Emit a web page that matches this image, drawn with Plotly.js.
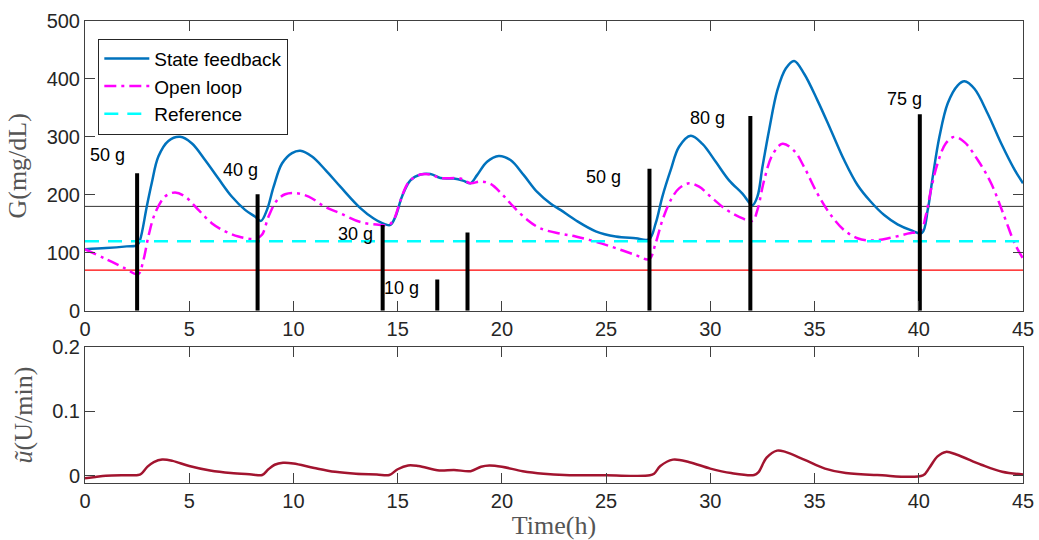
<!DOCTYPE html>
<html>
<head>
<meta charset="utf-8">
<script src="https://cdn.plot.ly/plotly-3.0.1.min.js"></script>
<style>html,body{margin:0;padding:0;background:#fff;}#chart{width:1039px;height:540px;}</style>
</head>
<body>
<div id="chart"></div>
<script>
// State feedback glucose (mg/dL) vs time (h)
const tSF = [0, 1, 2, 2.5, 2.64, 2.96, 3.2, 3.52, 4.0, 4.56, 5.12, 5.76, 6.4, 7.04, 7.68, 8.17, 8.44, 8.73, 9.05, 9.45, 9.93, 10.33, 10.89, 11.53, 12.25, 13.21, 13.85, 14.41, 14.65, 14.89, 15.21, 15.61, 16.09, 16.57, 17.05, 17.69, 18.17, 18.49, 18.81, 19.29, 19.85, 20.41, 21.05, 21.69, 22.33, 22.81, 23.54, 24.5, 25.46, 26.42, 27.06, 27.38, 27.7, 28.1, 28.5, 29.06, 29.62, 30.26, 30.9, 31.54, 32.02, 32.26, 32.5, 32.82, 33.22, 33.62, 34.02, 34.5, 35.14, 35.78, 36.42, 37.06, 37.7, 38.34, 38.98, 39.62, 40.15, 40.43, 40.67, 40.99, 41.39, 41.87, 42.19, 42.67, 43.31, 43.95, 44.6, 45];
const gSF = [106, 108, 111, 113, 122, 179, 220, 266, 293, 300, 289, 260, 228, 197, 174, 162, 155, 174, 214, 254, 272, 276, 266, 243, 214, 177, 159, 149, 148, 162, 197, 225, 235, 236, 229, 228, 224, 220, 234, 257, 267, 260, 234, 205, 185, 174, 156, 137, 128, 125, 123, 151, 197, 243, 283, 302, 288, 257, 225, 202, 182, 197, 248, 312, 381, 418, 431, 409, 363, 312, 260, 217, 188, 165, 149, 139, 134, 174, 231, 300, 358, 389, 396, 383, 340, 289, 243, 220];

// Open loop glucose
const tOL = [0, 0.96, 1.92, 2.55, 2.8, 3.04, 3.36, 3.84, 4.32, 4.8, 5.44, 6.08, 6.72, 7.36, 8.17, 8.49, 8.8, 9.2, 9.6, 10.09, 10.73, 11.53, 12.25, 13.21, 14.17, 14.57, 14.81, 15.13, 15.53, 16.09, 16.57, 17.05, 18.01, 18.49, 18.97, 19.45, 20.01, 20.57, 21.21, 21.85, 22.81, 23.54, 24.5, 25.46, 26.42, 27.06, 27.38, 27.7, 28.1, 28.5, 28.98, 29.46, 30.1, 30.74, 31.38, 32.02, 32.26, 32.58, 32.98, 33.46, 34.02, 34.5, 35.14, 35.78, 36.42, 37.06, 37.78, 38.66, 39.46, 40.1, 40.34, 40.58, 40.9, 41.3, 41.7, 42.19, 42.83, 43.47, 44.11, 44.6, 45];
const gOL = [106, 90, 73, 63, 87, 128, 168, 197, 204, 197, 174, 151, 137, 128, 124, 131, 162, 190, 201, 203, 197, 179, 168, 153, 148, 148, 157, 190, 222, 235, 235, 229, 228, 220, 223, 219, 201, 179, 157, 142, 133, 128, 119, 108, 96, 89, 117, 156, 191, 211, 220, 214, 194, 175, 162, 155, 174, 225, 269, 288, 276, 248, 202, 165, 139, 125, 121, 126, 133, 139, 165, 208, 254, 289, 300, 291, 260, 220, 162, 116, 90];

// Reference and limits
const tRange = [0, 45];
const refValue = 120;
const upperLimit = 180;
const lowerLimit = 70;

// Meals
const mealTimes = [2.5, 8.28, 14.28, 16.9, 18.35, 27.08, 31.92, 40.05];
const mealTops = [237, 201, 148, 54, 135, 245, 336, 339];
const mealLabels = ["50 g", "40 g", "30 g", "10 g", "50 g", "80 g", "75 g"];
const mealLabelT = [1.06, 7.48, 12.97, 15.17, 24.86, 29.84, 39.3];
const mealLabelG = [268, 243, 133, 40, 231, 332, 366];

// Insulin input u~ (U/min)
const tU = [0, 0.5, 1, 2, 2.55, 2.7, 3.0, 3.3, 3.7, 4.2, 5, 6, 7, 8, 8.5, 8.8, 9.1, 9.5, 10, 11, 12, 13, 14, 14.6, 15, 15.5, 16, 17, 17.7, 18.5, 19, 19.4, 20, 21, 22, 23, 25, 27.1, 27.3, 27.6, 28.2, 29, 30, 31, 32.1, 32.3, 32.7, 33.2, 33.6, 34.5, 35.5, 36.5, 38, 40.2, 40.5, 40.9, 41.3, 41.8, 43, 44, 45];
const uVal = [-0.004, -0.002, 0.0, 0.0008, 0.001, 0.003, 0.014, 0.021, 0.025, 0.023, 0.015, 0.008, 0.004, 0.002, 0.001, 0.010, 0.017, 0.020, 0.019, 0.012, 0.006, 0.003, 0.002, 0.001, 0.010, 0.016, 0.015, 0.008, 0.009, 0.007, 0.014, 0.016, 0.014, 0.007, 0.003, 0.001, 0.0005, 0.0005, 0.003, 0.015, 0.025, 0.021, 0.011, 0.004, 0.001, 0.005, 0.028, 0.039, 0.037, 0.025, 0.011, 0.004, 0.001, 0.0005, 0.012, 0.030, 0.037, 0.033, 0.017, 0.006, 0.002];

// meal bars as segments
const barX = [], barY = [];
mealTimes.forEach((t, i) => { barX.push(t, t, null); barY.push(0, mealTops[i], null); });

const traces = [
  {x: tRange, y: [upperLimit, upperLimit], mode: 'lines', line: {color: '#333333', width: 1}, showlegend: false, hoverinfo: 'skip', xaxis: 'x', yaxis: 'y'},
  {x: tRange, y: [lowerLimit, lowerLimit], mode: 'lines', line: {color: '#ff0000', width: 1.2}, showlegend: false, hoverinfo: 'skip', xaxis: 'x', yaxis: 'y'},
  {x: tSF, y: gSF, mode: 'lines', name: 'State feedback', line: {color: '#0072BD', width: 2.5, shape: 'spline', smoothing: 1}, xaxis: 'x', yaxis: 'y'},
  {x: tOL, y: gOL, mode: 'lines', name: 'Open loop', line: {color: '#FF00FF', width: 2.5, dash: '12px,5px,3px,5px', shape: 'spline', smoothing: 1}, xaxis: 'x', yaxis: 'y'},
  {x: tRange, y: [refValue, refValue], mode: 'lines', name: 'Reference', line: {color: '#00FFFF', width: 2.5, dash: '14px,9px'}, xaxis: 'x', yaxis: 'y'},
  {x: barX, y: barY, mode: 'lines', line: {color: '#000000', width: 4}, showlegend: false, hoverinfo: 'skip', xaxis: 'x', yaxis: 'y'},
  {x: tU, y: uVal, mode: 'lines', line: {color: '#A2142F', width: 2.5, shape: 'spline', smoothing: 1}, showlegend: false, xaxis: 'x2', yaxis: 'y2'}
];

const tickFont = {family: 'Liberation Sans, Arial, sans-serif', size: 20, color: '#262626'};
const axCommon = {
  showline: true, linecolor: '#404040', linewidth: 1, mirror: 'ticks',
  ticks: 'inside', ticklen: 10, tickcolor: '#404040', tickwidth: 1,
  showgrid: false, zeroline: false, tickfont: tickFont
};

const annotations = mealLabels.map((s, i) => ({
  x: mealLabelT[i], y: mealLabelG[i], xref: 'x', yref: 'y', text: s, showarrow: false,
  font: {family: 'Liberation Sans, Arial, sans-serif', size: 18, color: '#000'}
}));

const titleFont = {family: 'Liberation Serif, Times New Roman, serif', size: 26, color: '#555555'};

const layout = {
  width: 1039, height: 540,
  margin: {l: 85, r: 16, t: 21, b: 57},
  paper_bgcolor: '#fff', plot_bgcolor: '#fff',
  showlegend: true,
  legend: {
    x: 0.0142, y: 0.962, xanchor: 'left', yanchor: 'top',
    bgcolor: '#fff', bordercolor: '#262626', borderwidth: 1,
    font: {family: 'Liberation Sans, Arial, sans-serif', size: 19, color: '#000'},
    itemwidth: 45, tracegroupgap: 0, entrywidth: 200
  },
  xaxis: Object.assign({}, axCommon, {domain: [0, 1], range: [0, 45], dtick: 5, tick0: 0, anchor: 'y'}),
  yaxis: Object.assign({}, axCommon, {domain: [0.373, 1], range: [0, 500], dtick: 100, anchor: 'x',
    title: {text: 'G(mg/dL)', standoff: 12, font: titleFont}}),
  xaxis2: Object.assign({}, axCommon, {domain: [0, 1], range: [0, 45], dtick: 5, tick0: 0, anchor: 'y2',
    title: {text: 'Time(h)', standoff: 2, font: titleFont}}),
  yaxis2: Object.assign({}, axCommon, {domain: [0, 0.294], range: [-0.0114, 0.2], tickvals: [0, 0.1, 0.2], ticktext: ['0', '0.1', '0.2'], anchor: 'x2',
    title: {text: '<i>ũ</i>(U/min)', standoff: 12, font: titleFont}}),
  annotations: annotations
};

Plotly.newPlot('chart', traces, layout, {staticPlot: true, displayModeBar: false});
</script>
</body>
</html>
